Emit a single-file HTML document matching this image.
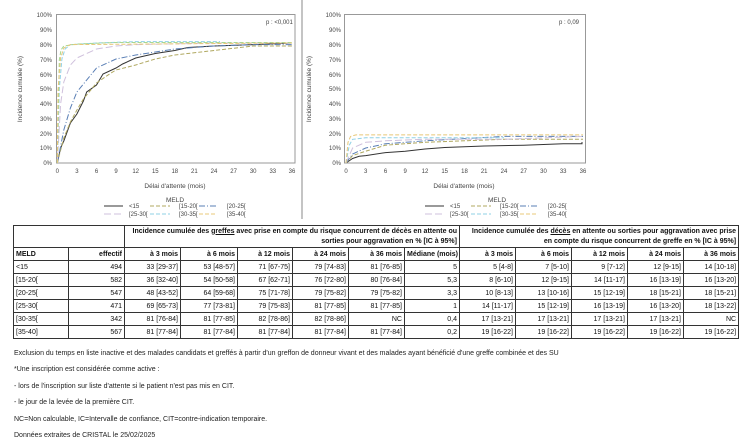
<!DOCTYPE html>
<html><head><meta charset="utf-8"><style>
body{margin:0;width:750px;height:439px;background:#fff;position:relative;overflow:hidden;font-family:"Liberation Sans",sans-serif}
svg{position:absolute;left:0;top:0}
table{position:absolute;left:13px;top:225px;border-collapse:collapse;table-layout:fixed;width:725px;font-size:7px;color:#111;border:1.5px solid #222}
td{border:1px solid #333;padding:0 2px;height:12px;text-align:right;white-space:nowrap;overflow:hidden;line-height:11px}
td.l{text-align:left}
tr.h td{font-weight:bold}
tr.g td{height:21px;white-space:normal;line-height:10px;font-weight:bold}
.notes{position:absolute;left:14px;top:346px;font-size:7px;color:#222;line-height:16.4px}
</style></head><body>
<svg width="750" height="439" font-family="Liberation Sans, sans-serif" font-size="6" fill="#444">
<line x1="302" y1="0" x2="302" y2="219" stroke="#888" stroke-width="1"/>
<!-- left chart -->
<g>
<rect x="56.5" y="14.5" width="238.5" height="148.5" fill="none" stroke="#999"/>
<g text-anchor="end">
<text x="52" y="165">0%</text><text x="52" y="150">10%</text><text x="52" y="136">20%</text><text x="52" y="121">30%</text><text x="52" y="106">40%</text><text x="52" y="91">50%</text><text x="52" y="77">60%</text><text x="52" y="62">70%</text><text x="52" y="47">80%</text><text x="52" y="32">90%</text><text x="52" y="17">100%</text>
</g>
<g text-anchor="middle">
<text x="57.3" y="173">0</text><text x="76.9" y="173">3</text><text x="96.5" y="173">6</text><text x="116" y="173">9</text><text x="135.7" y="173">12</text><text x="155.3" y="173">15</text><text x="174.8" y="173">18</text><text x="194.4" y="173">21</text><text x="214" y="173">24</text><text x="233.6" y="173">27</text><text x="253.2" y="173">30</text><text x="272.8" y="173">33</text><text x="292" y="173">36</text>
<text x="175" y="188" font-size="6.5">Délai d'attente (mois)</text>
<text x="22" y="89" font-size="6.5" transform="rotate(-90 22 89)">Incidence cumulée (%)</text>
<text x="175" y="202" font-size="6.5">MELD</text>
</g>
<text x="266" y="24" font-size="6">p : &lt;0,001</text>
<g fill="none" stroke-width="1">
<polyline stroke="#333" points="57.3,163 60.6,148 63.8,141 70.4,123 76.9,114 83.4,101 86.7,92 96.5,85 103,74 116,68 122.6,64 135.7,58 155.3,53.5 174.8,50.5 187.9,47.5 214,46 253.2,44.6 292,43"/>
<polyline stroke="#b0a860" stroke-dasharray="4,2" points="57.3,163 63.8,138 70.4,122 76.9,110 83.4,99 96.5,83 109.5,74 116,70 135.7,65 155.3,59 174.8,55 214,50.5 253.2,46 292,46"/>
<polyline stroke="#5a7fb5" stroke-dasharray="6,2,1,2" points="57.3,163 63.8,130 70.4,108 76.9,92 96.5,68 116,59 135.7,55 155.3,52 174.8,49 194.4,47.5 214,46 253.2,44.6 292,44.6"/>
<polyline stroke="#cfc0dc" stroke-dasharray="7,3" points="57.3,163 60.6,104 63.8,82 70.4,65 76.9,58 96.5,49 116,46 135.7,44.6 214,43 292,43"/>
<polyline stroke="#8fd0e6" stroke-dasharray="4,2" points="57.3,163 59.3,89 61.9,59 65.1,49 70.4,44.6 96.5,43 135.7,41.6 220,41.6"/>
<polyline stroke="#a8d890" stroke-dasharray="4,2" points="57.3,163 59.3,60 61,50 63.8,46 76.9,44 116,42.5 292,42.5"/>
<polyline stroke="#e8c878" stroke-dasharray="4,2" points="57.3,163 58,90 60.6,58 63.8,48 70.4,44.6 292,43"/>
</g>
<g fill="none" stroke-width="1">
<line x1="104" y1="206" x2="123" y2="206" stroke="#333"/>
<line x1="150" y1="206" x2="170" y2="206" stroke="#b0a860" stroke-dasharray="4,2"/>
<line x1="199" y1="206" x2="216" y2="206" stroke="#5a7fb5" stroke-dasharray="6,2,1,2"/>
<line x1="104" y1="214" x2="123" y2="214" stroke="#cfc0dc" stroke-dasharray="7,3"/>
<line x1="150" y1="214" x2="170" y2="214" stroke="#8fd0e6" stroke-dasharray="4,2"/>
<line x1="199" y1="214" x2="216" y2="214" stroke="#e8c878" stroke-dasharray="4,2"/>
</g>
<text x="129" y="208">&lt;15</text><text x="179" y="208">[15-20[</text><text x="227" y="208">[20-25[</text>
<text x="129" y="216">[25-30[</text><text x="179" y="216">[30-35[</text><text x="227" y="216">[35-40[</text>
</g>
<!-- right chart -->
<g transform="translate(289,0)">
<rect x="55.5" y="14.5" width="241" height="148.5" fill="none" stroke="#999"/>
<g text-anchor="end">
<text x="52" y="165">0%</text><text x="52" y="150">10%</text><text x="52" y="136">20%</text><text x="52" y="121">30%</text><text x="52" y="106">40%</text><text x="52" y="91">50%</text><text x="52" y="77">60%</text><text x="52" y="62">70%</text><text x="52" y="47">80%</text><text x="52" y="32">90%</text><text x="52" y="17">100%</text>
</g>
<g text-anchor="middle">
<text x="57" y="173">0</text><text x="76.7" y="173">3</text><text x="96.5" y="173">6</text><text x="116.2" y="173">9</text><text x="136" y="173">12</text><text x="155.7" y="173">15</text><text x="175.5" y="173">18</text><text x="195.2" y="173">21</text><text x="215" y="173">24</text><text x="234.7" y="173">27</text><text x="254.5" y="173">30</text><text x="274.2" y="173">33</text><text x="294" y="173">36</text>
<text x="175" y="188" font-size="6.5">Délai d'attente (mois)</text>
<text x="22" y="89" font-size="6.5" transform="rotate(-90 22 89)">Incidence cumulée (%)</text>
<text x="208" y="202" font-size="6.5">MELD</text>
</g>
<text x="270" y="24" font-size="6">p : 0,09</text>
<g fill="none" stroke-width="1">
<polyline stroke="#333" points="57,163 63.6,158.5 70.2,156.3 76.7,155.6 96.5,152.6 116.2,151.2 136,149 155.7,147.5 195.2,146 234.7,145.2 274.2,143.8 293,143.8 293,142"/>
<polyline stroke="#b0a860" stroke-dasharray="4,2" points="57,163 63.6,155.6 76.7,151.2 96.5,145.2 136,142.3 215,139.3 294,139.3"/>
<polyline stroke="#5a7fb5" stroke-dasharray="6,2,1,2" points="57,163 63.6,154 76.7,148 96.5,143.8 136,140.8 215,136.4 294,136.4"/>
<polyline stroke="#cfc0dc" stroke-dasharray="7,3" points="57,163 63.6,148 76.7,142.3 96.5,140.8 136,139.3 215,139.3 294,136.4"/>
<polyline stroke="#8fd0e6" stroke-dasharray="4,2" points="57,163 60.3,145.2 63.6,139.3 76.7,137.8 215,137.8"/>
<polyline stroke="#e8c878" stroke-dasharray="4,2" points="57,163 59,142.3 61.6,136.4 66.9,134.9 294,134.9"/>
</g>
<g fill="none" stroke-width="1" transform="translate(32,0)">
<line x1="104" y1="206" x2="123" y2="206" stroke="#333"/>
<line x1="150" y1="206" x2="170" y2="206" stroke="#b0a860" stroke-dasharray="4,2"/>
<line x1="199" y1="206" x2="216" y2="206" stroke="#5a7fb5" stroke-dasharray="6,2,1,2"/>
<line x1="104" y1="214" x2="123" y2="214" stroke="#cfc0dc" stroke-dasharray="7,3"/>
<line x1="150" y1="214" x2="170" y2="214" stroke="#8fd0e6" stroke-dasharray="4,2"/>
<line x1="199" y1="214" x2="216" y2="214" stroke="#e8c878" stroke-dasharray="4,2"/>
</g>
<g transform="translate(32,0)">
<text x="129" y="208">&lt;15</text><text x="179" y="208">[15-20[</text><text x="227" y="208">[20-25[</text>
<text x="129" y="216">[25-30[</text><text x="179" y="216">[30-35[</text><text x="227" y="216">[35-40[</text>
</g>
</g>
</svg>
<table>
<colgroup><col style="width:55px"><col style="width:56px"><col style="width:56px"><col style="width:57px"><col style="width:55px"><col style="width:56px"><col style="width:56px"><col style="width:55px"><col style="width:56px"><col style="width:56px"><col style="width:56px"><col style="width:56px"><col style="width:55px"></colgroup>
<tr class="g"><td colspan="2"></td><td colspan="6">Incidence cumulée des <u>greffes</u> avec prise en compte du risque concurrent de décès en attente ou sorties pour aggravation en % [IC à 95%]</td><td colspan="5">Incidence cumulée des <u>décès</u> en attente ou sorties pour aggravation avec prise en compte du risque concurrent de greffe en % [IC à 95%]</td></tr>
<tr class="h"><td class="l">MELD</td><td>effectif</td><td>à 3 mois</td><td>à 6 mois</td><td>à 12 mois</td><td>à 24 mois</td><td>à 36 mois</td><td>Médiane (mois)</td><td>à 3 mois</td><td>à 6 mois</td><td>à 12 mois</td><td>à 24 mois</td><td>à 36 mois</td></tr>
<tr><td class="l">&lt;15</td><td>494</td><td>33 [29-37]</td><td>53 [48-57]</td><td>71 [67-75]</td><td>79 [74-83]</td><td>81 [76-85]</td><td>5</td><td>5 [4-8]</td><td>7 [5-10]</td><td>9 [7-12]</td><td>12 [9-15]</td><td>14 [10-18]</td></tr>
<tr><td class="l">[15-20[</td><td>582</td><td>36 [32-40]</td><td>54 [50-58]</td><td>67 [62-71]</td><td>76 [72-80]</td><td>80 [76-84]</td><td>5,3</td><td>8 [6-10]</td><td>12 [9-15]</td><td>14 [11-17]</td><td>16 [13-19]</td><td>16 [13-20]</td></tr>
<tr><td class="l">[20-25[</td><td>547</td><td>48 [43-52]</td><td>64 [59-68]</td><td>75 [71-78]</td><td>79 [75-82]</td><td>79 [75-82]</td><td>3,3</td><td>10 [8-13]</td><td>13 [10-16]</td><td>15 [12-19]</td><td>18 [15-21]</td><td>18 [15-21]</td></tr>
<tr><td class="l">[25-30[</td><td>471</td><td>69 [65-73]</td><td>77 [73-81]</td><td>79 [75-83]</td><td>81 [77-85]</td><td>81 [77-85]</td><td>1</td><td>14 [11-17]</td><td>15 [12-19]</td><td>16 [13-19]</td><td>16 [13-20]</td><td>18 [13-22]</td></tr>
<tr><td class="l">[30-35[</td><td>342</td><td>81 [76-84]</td><td>81 [77-85]</td><td>82 [78-86]</td><td>82 [78-86]</td><td>NC</td><td>0,4</td><td>17 [13-21]</td><td>17 [13-21]</td><td>17 [13-21]</td><td>17 [13-21]</td><td>NC</td></tr>
<tr><td class="l">[35-40]</td><td>567</td><td>81 [77-84]</td><td>81 [77-84]</td><td>81 [77-84]</td><td>81 [77-84]</td><td>81 [77-84]</td><td>0,2</td><td>19 [16-22]</td><td>19 [16-22]</td><td>19 [16-22]</td><td>19 [16-22]</td><td>19 [16-22]</td></tr>
</table>
<div class="notes">
Exclusion du temps en liste inactive et des malades candidats et greffés à partir d'un greffon de donneur vivant et des malades ayant bénéficié d'une greffe combinée et des SU<br>
*Une inscription est considérée comme active :<br>
- lors de l'inscription sur liste d'attente si le patient n'est pas mis en CIT.<br>
- le jour de la levée de la première CIT.<br>
NC=Non calculable, IC=Intervalle de confiance, CIT=contre-indication temporaire.<br>
Données extraites de CRISTAL le 25/02/2025
</div>
</body></html>
